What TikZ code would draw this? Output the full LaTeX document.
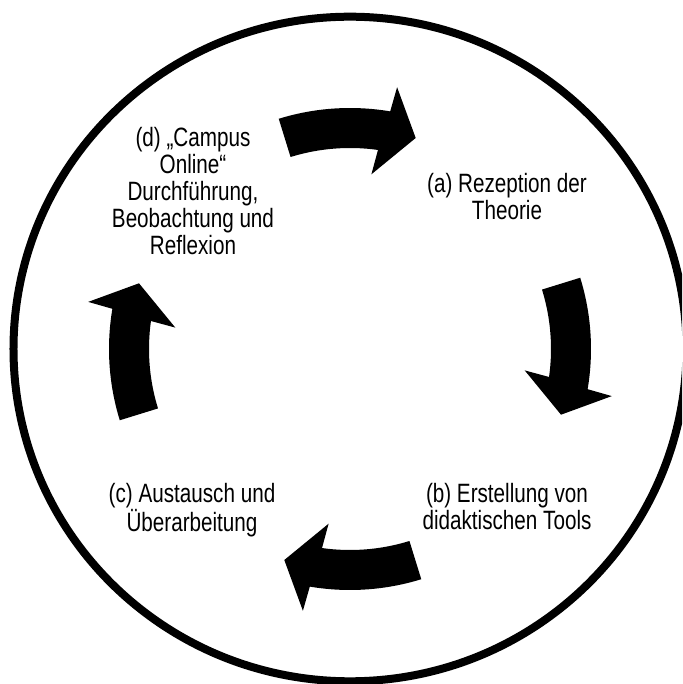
\documentclass[tikz,border=0pt]{standalone}
\usepackage{fontspec}
\setmainfont{Liberation Sans}[FakeStretch=0.78]
\begin{document}
\begin{tikzpicture}[x=1pt,y=1pt,
  cyclearrow/.style={fill=black},
  ring/.style={draw=black,line width=8pt},
  phase/.style={align=center,inner sep=0pt,anchor=north,
    font=\fontsize{26.5}{27}\selectfont}]
\useasboundingbox (-350,-335) rectangle (332,349);
\clip (-350,-335) rectangle (332,349);
% outer ring
\draw[ring] (0,0) ellipse [x radius=336.5, y radius=332.3];
% four curved block arrows, turning clockwise
\foreach \rot in {0,-90,-180,-270} {
  \begin{scope}[rotate=\rot]
    \fill[cyclearrow] (107.2:241) arc[start angle=107.2, end angle=80.4, radius=241]
      -- (47.1,261.8) -- (65.7,211) -- (21.4,174.7)
      -- (82:201) arc[start angle=82, end angle=107.2, radius=201] -- cycle;
  \end{scope}
}
% phase labels
\node[phase] (a) at (157,176) {(a) Rezeption der\\Theorie};
\node[phase] (b) at (157,-134) {(b) Erstellung von\\didaktischen Tools};
\node[phase] (c) at (-158,-134) {(c) Austausch und\\Überarbeitung};
\node[phase] (d) at (-157,222) {(d) „Campus\\Online“\\Durchführung,\\Beobachtung und\\Reflexion};
\end{tikzpicture}
\end{document}
